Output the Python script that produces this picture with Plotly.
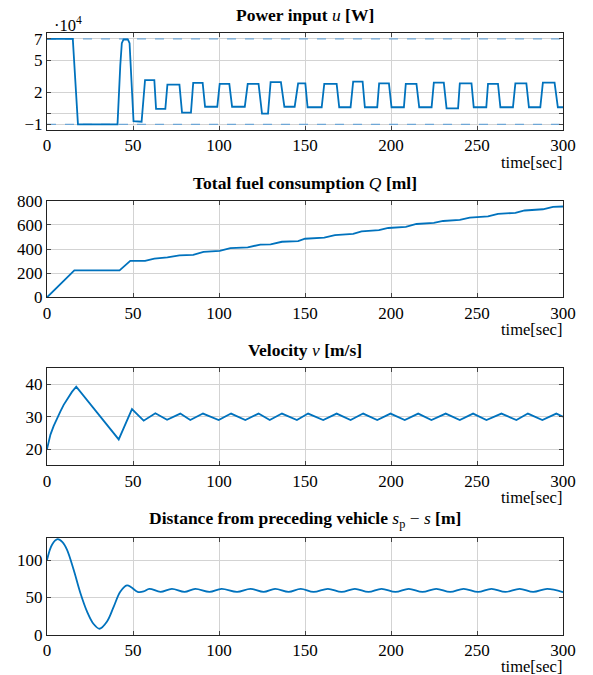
import plotly.graph_objects as go

# ---------------- data ----------------
time_ticks = [0, 50, 100, 150, 200, 250, 300]

# Power input u  (x 10^4 W)
u_time = [0, 15, 18, 41, 42.6, 43.5, 44.5, 47, 48, 48.6, 50.3, 55, 57, 62.4, 63.4, 68.8, 70, 77,
          78.5, 83.7, 85, 90.5, 91.9, 99, 100.4, 106, 107.6, 115, 116.7, 123, 125, 128.5,
          130, 136, 138, 144, 146, 150.2, 151.5, 159.7, 161.2, 168.4, 169.9, 176.5, 178,
          183.5, 184.8, 192, 193.1, 198.8, 200.3, 207.5, 208.6, 214.8, 216.4, 223.6, 224.9,
          230.7, 232.3, 239, 240, 246.8, 248.1, 255.4, 256.4, 262.2, 263.6, 270.9, 272.3,
          278.7, 280.2, 286.8, 288.3, 295.1, 297, 300]
u_vals = [7, 7, -1, -1, 4.5, 6.6, 6.95, 6.95, 6.6, 4.5, -0.7, -0.75, 3.15, 3.15, 0.45, 0.45, 2.72, 2.72,
          0.1, 0.1, 2.88, 2.88, 0.65, 0.65, 2.8, 2.8, 0.65, 0.65, 2.8, 2.8, 0.0, 0.0,
          2.95, 2.95, 0.65, 0.65, 2.84, 2.84, 0.6, 0.6, 2.8, 2.8, 0.6, 0.6, 3.0,
          3.0, 0.6, 0.6, 2.84, 2.84, 0.6, 0.6, 2.8, 2.8, 0.6, 0.6, 2.9,
          2.9, 0.5, 0.5, 2.84, 2.84, 0.6, 0.6, 2.8, 2.8, 0.6, 0.6, 2.84,
          2.84, 0.6, 0.6, 2.9, 2.9, 0.6, 0.6]
u_max = 7
u_min = -1
u_ticks = [-1, 0, 2, 5, 7]
u_tick_text = ["\u22121", "", "2", "5", "7"]

# Total fuel consumption Q (ml)
q_time = [0, 15.9, 42.2, 48.4, 56.2, 57, 62.4, 70, 77, 85, 91, 100.4, 106.6, 116.7, 124, 128.9,
          130, 136.6, 146, 150, 161.2, 167.4, 178, 182.9, 193, 198.4, 208.6, 214.8, 224.9,
          230.3, 240, 245.8, 256.4, 262.2, 272.3, 277.7, 288.3, 294.2, 300]
q_vals = [0, 223, 223, 301, 301, 302, 320, 330, 348, 352, 376, 385, 407, 413, 437, 437,
          438, 460, 466, 485, 494, 515, 526, 546, 556, 574, 584, 607, 617,
          632, 642, 660, 670, 691, 700, 719, 729, 749, 752]

# Velocity v (m/s)
v_time = [0, 1, 2, 3.9, 5.8, 7.8, 9.7, 11.6, 14.5, 17, 41.7, 49.4, 56.2, 63, 69.8, 77.5, 83.3,
          90.7, 99.8, 107, 115.3, 123, 129.5, 136.6, 145.3, 151.8, 160.6, 168.4, 176.5,
          183.8, 192, 199.7, 208, 215.8, 223.5, 231.8, 240, 247.7, 255.5, 264.2, 272.9,
          279.6, 288, 296.1, 300]
v_vals = [20, 22.4, 24.5, 27.2, 29.6, 31.7, 33.7, 35.4, 37.7, 39.3, 23, 32.4, 28.8, 31.1, 29.1, 31, 29,
          31, 29, 31, 29, 31, 29, 31, 29, 31, 29, 31, 29,
          31, 29, 31, 29, 31, 29, 31, 29, 31, 29, 31, 29,
          31, 29, 31, 30]

# Distance from preceding vehicle (m)
d_time = [0, 3, 6.2, 9, 11.6, 15.5, 19.4, 23.3, 27.1, 30.6, 34.9, 38.8, 42.6, 46.5, 49, 52.7,
          56.2, 59.5, 66, 72.6, 80, 86.2, 94.5, 101.5, 110.5, 118.3, 126, 132.6, 140.5,
          147.5, 155, 163.3, 171.3, 179, 186.9, 194.5, 202.6, 210.3, 218.3, 226.3, 234.4,
          242.2, 250.6, 258.4, 266.5, 274.8, 282.7, 290.8, 300]
d_vals = [100, 121, 128, 124, 114, 87, 56, 31, 14.4, 8, 17.6, 37.6, 57.6, 66, 63.5, 57.5,
          58, 61.5, 57.5, 61.5, 57.5, 61.5, 57.5, 61.5, 57.5, 61.5, 57.5, 61.5, 57.5,
          61.5, 57.3, 61.5, 57.3, 61.5, 57.3, 61.5, 57.3, 61.5, 57.3, 61.5, 57.3,
          61.5, 57.3, 61.5, 57.3, 61.5, 57.3, 61.5, 57]

titles = ["<b>Power input </b><i>u</i><b> [W]</b>",
          "<b>Total fuel consumption </b><i>Q</i><b> [ml]</b>",
          "<b>Velocity </b><i>v</i><b> [m/s]</b>",
          "<b>Distance from preceding vehicle </b><i>s</i><sub>p</sub> \u2212 <i>s</i><b> [m]</b>"]
x_label = "time[sec]"

# ---------------- layout ----------------
W, H = 593, 675
X0, X1 = 47, 563
panels = [(33.3, 130), (200.7, 297.3), (368.3, 465.3), (537.7, 634.7)]
LINE = "#0072BD"
DASH = "#6fa7d6"
FONT = "Liberation Serif, Times New Roman, serif"

fig = go.Figure()

series = [(u_time, u_vals), (q_time, q_vals), (v_time, v_vals), (d_time, d_vals)]
for i, (tx, ty) in enumerate(series):
    ax = "" if i == 0 else str(i + 1)
    if i == 0:
        for lvl in (u_max, u_min):
            fig.add_trace(go.Scatter(x=[time_ticks[0], time_ticks[-1]], y=[lvl, lvl], mode="lines",
                                     line=dict(color=DASH, width=1.2, dash="dash"),
                                     xaxis="x" + ax, yaxis="y" + ax, showlegend=False,
                                     hoverinfo="skip"))
    line = dict(color=LINE, width=1.8)
    if i == 3:
        line.update(shape="spline", smoothing=1.0)
    fig.add_trace(go.Scatter(x=tx, y=ty, mode="lines", line=line,
                             xaxis="x" + ax, yaxis="y" + ax, showlegend=False))

axis_common = dict(showline=True, linecolor="#222", linewidth=1.1, mirror="ticks",
                   ticks="inside", ticklen=4, tickcolor="#444", tickwidth=1,
                   showgrid=True, gridcolor="#d3d3d3", gridwidth=1, zeroline=False,
                   tickfont=dict(family=FONT, size=17, color="black"), automargin=False)

y_cfg = [
    dict(range=[-1.53, 7.53], tickvals=u_ticks, ticktext=u_tick_text),
    dict(range=[0, 800], tickvals=[0, 200, 400, 600, 800]),
    dict(range=[15, 45], tickvals=[20, 30, 40]),
    dict(range=[0, 130], tickvals=[0, 50, 100]),
]

annotations = []
axes = {}
for i, (top, bot) in enumerate(panels):
    ax = "" if i == 0 else str(i + 1)
    axes["xaxis" + ax] = dict(axis_common, domain=[X0 / W, X1 / W], range=[0, 300],
                              tickvals=time_ticks, anchor="y" + ax)
    axes["yaxis" + ax] = dict(axis_common, domain=[1 - bot / H, 1 - top / H],
                              anchor="x" + ax, **y_cfg[i])
    annotations.append(dict(text=titles[i], x=(X0 + X1) / 2 / W, y=1 - (top - 18) / H,
                            xref="paper", yref="paper", showarrow=False,
                            xanchor="center", yanchor="middle",
                            font=dict(family=FONT, size=17.5, color="black")))
    annotations.append(dict(text=x_label, x=X1 / W + 0.001, y=1 - (bot + 32) / H,
                            xref="paper", yref="paper", showarrow=False,
                            xanchor="right", yanchor="middle",
                            font=dict(family=FONT, size=16.5, color="black")))

annotations.append(dict(text="\u00b710<sup>4</sup>", x=52 / W, y=1 - 24 / H, xref="paper",
                        yref="paper", showarrow=False, xanchor="left", yanchor="middle",
                        font=dict(family=FONT, size=16.5, color="black")))

fig.update_layout(width=W, height=H, margin=dict(l=0, r=0, t=0, b=0),
                  font=dict(family=FONT, size=17, color="black"),
                  paper_bgcolor="white", plot_bgcolor="white",
                  annotations=annotations, showlegend=False, **axes)

fig.write_html("out.html", config={"displayModeBar": False},
               post_script="document.body.style.margin='0px';document.body.style.padding='0px';")
